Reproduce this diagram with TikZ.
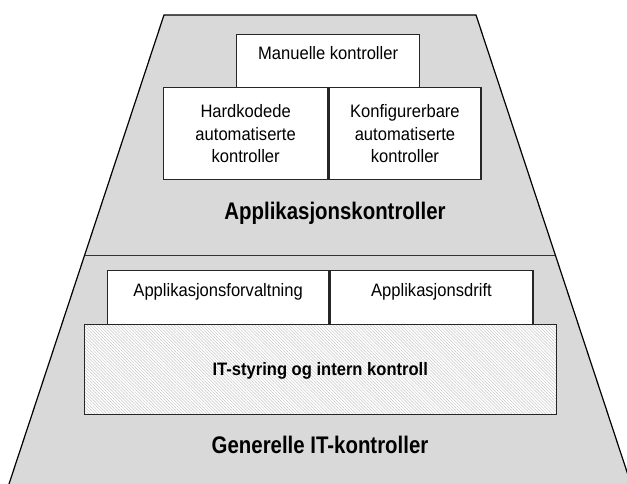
\documentclass[tikz,border=0pt]{standalone}
\usepackage{fontspec}
\setmainfont{Liberation Sans}[FakeStretch=0.92]
\newfontfamily\headfont{Liberation Sans}[FakeStretch=0.85]
\usetikzlibrary{calc,patterns.meta}

\begin{document}
\begin{tikzpicture}[x=1pt,y=-1pt,
    box/.style={draw=black!85, line width=1.3pt, fill=white, inner sep=0pt, anchor=north west},
    hatchbox/.style={draw=black!85, line width=1.3pt, inner sep=0pt, anchor=north west,
        preaction={fill=white},
        pattern={Lines[angle=-45,distance=2.2pt,line width=0.5pt]}, pattern color=black!22},
    boxtext/.style={font=\fontsize{18}{22.5}\selectfont, align=center, inner sep=0pt},
    layertext/.style={font=\headfont\bfseries\fontsize{24}{28}\selectfont, inner sep=0pt, anchor=base}]
        \useasboundingbox (0,0) rectangle (627,484);
        % the two layers
        \coordinate (tl) at (164,15);
        \coordinate (tr) at (476,15);
        \coordinate (bl) at (9,484);
        \coordinate (br) at (631,484);
        \fill[gray!30] (bl) -- (tl) -- (tr) -- (br) -- cycle;
        \draw[line width=1.2pt] (bl) -- (tl) -- (tr) -- (br);
        \coordinate (dl) at ($(tl)!0.512!(bl)$);
        \coordinate (dr) at ($(tr)!0.512!(br)$);
        \draw[line width=1.2pt, black!80] (dl) -- (dr);

        % application controls
        \node[box, minimum width=183, minimum height=53] (man) at (236,34) {};
        \node[boxtext, anchor=base] (mantxt) at ($(man.north)+(0,25.5)$) {Manuelle kontroller};
        \node[box, boxtext, minimum width=164, minimum height=92] (hard) at (163,87) {Hardkodede\\automatiserte\\kontroller};
        \node[box, boxtext, minimum width=152, minimum height=92] (konf) at (hard.north east) {Konfigurerbare\\automatiserte\\kontroller};
        \node[layertext] (appl) at (335,219.5) {Applikasjonskontroller};

        % general IT controls
        \node[box, minimum width=221, minimum height=54] (forv) at (107,270) {};
        \node[box, minimum width=203, minimum height=54] (drift) at (forv.north east) {};
        \node[boxtext, anchor=base] (forvtxt) at ($(forv.north)+(0,26.6)$) {Applikasjonsforvaltning};
        \node[boxtext, anchor=base] (drifttxt) at ($(drift.north)+(0,26.6)$) {Applikasjonsdrift};
        \node[hatchbox, minimum width=472, minimum height=90] (styr) at (84,324) {};
        \node[boxtext, font=\bfseries\fontsize{18}{22.5}\selectfont, anchor=base] (styrtxt) at ($(styr.north)+(0,51)$) {IT-styring og intern kontroll};
        \node[layertext] (gen) at (320,453.3) {Generelle IT-kontroller};
\end{tikzpicture}
\end{document}
